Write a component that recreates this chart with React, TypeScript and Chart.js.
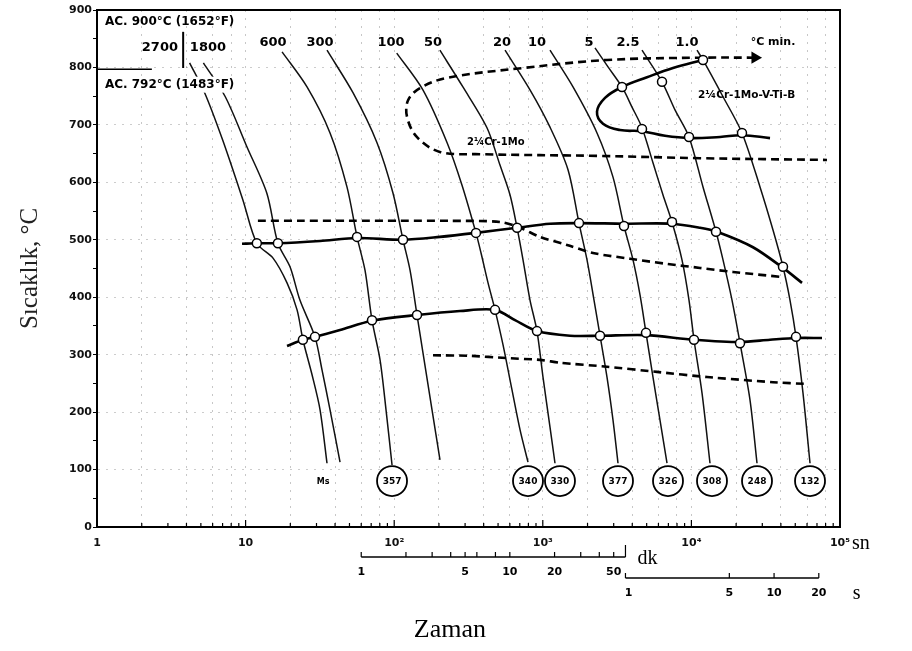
import React, { useEffect, useRef } from 'react';
import { Chart, registerables } from 'chart.js';
Chart.register(...registerables);

type P = [number, number];

// ---- DATA: [time (s), temperature (°C)] ----
// cooling curves (°C/min)
const cool2700: P[] = [[4.2,808],[5.3,756],[7.0,674],[9.6,569],[11.9,494],[15.3,468],[19.0,425],[22.2,378],[24.3,326],[28.0,265],[31.7,204],[35.3,111]];
const cool1800: P[] = [[5.2,808],[7.3,749],[10.2,662],[13.9,581],[16.5,494],[19.9,453],[23.2,395],[29.3,331],[32.7,273],[37.0,204],[43.2,113]];
const cool600: P[] = [[17.6,827],[25.9,766],[37.0,686],[48.1,592],[56.2,505],[63.6,447],[70.9,360],[80.3,291],[88.1,204],[96.7,108]];
const cool300: P[] = [[35.3,830],[52.8,756],[76.6,669],[98.2,581],[114.6,500],[127.8,447],[142.4,369],[156.2,303],[179.7,204],[203.3,117]];
const cool100: P[] = [[104,825],[156,761],[227,669],[286,595],[355,512],[384,477],[428,425],[477,378],[540,317],[620,239],[703,169],[795,113]];
const cool50: P[] = [[203,830],[290,766],[421,695],[515,630],[602,578],[671,521],[736,465],[820,395],[914,341],[1003,261],[1118,174],[1208,111]];
const cool20: P[] = [[557,830],[820,761],[1118,696],[1478,622],[1752,529],[1984,465],[2211,395],[2427,333],[2704,261],[2968,186],[3207,111]];
const cool10: P[] = [[1118,830],[1597,766],[2316,686],[2968,609],[3519,524],[4046,465],[4510,404],[4948,338],[5514,261],[6147,186],[6852,111]];
const cool5: P[] = [[2245,834],[2747,801],[3412,766],[3984,731],[4652,695],[5514,634],[6441,578],[7403,531],[8644,465],[9634,395],[10410,326],[11790,233],[13340,111]];
const cool2_5: P[] = [[4652,830],[6342,775],[7756,726],[9634,679],[11970,592],[14640,514],[16320,465],[18760,395],[21240,320],[24800,221],[27640,111]];
const cool1_0: P[] = [[10910,830],[11970,813],[16320,749],[21900,686],[28950,592],[35410,517],[41340,453],[46070,395],[50570,331],[56370,233],[62840,111]];

// transformation lines
const bainiteStart: P[] = [[9.46,493],[11.9,494],[16.5,494],[31.7,498],[56.2,503],[114.6,500],[203,505],[355,512],[671,521],[1118,528],[1752,529],[3519,528],[7403,528],[11430,521],[14870,514],[25970,487],[41340,451],[55510,425]];
const bainiteFinish: P[] = [[19.0,315],[24.3,326],[29.3,331],[43.2,343],[70.9,359],[142.4,369],[277,376],[477,378],[650,360],[914,341],[1524,333],[2427,333],[4948,334],[10410,326],[21240,322],[33810,326],[50570,329],[75670,329]];
const dashedUpper: P[] = [[12.1,533],[23.2,533],[50.4,533],[109.4,533],[237.5,533],[515,531],[702,521],[958,505],[1456,491],[2177,477],[3863,467],[6852,458],[11430,451],[19050,444],[41340,435]];
const dashedLower: P[] = [[182.5,299],[323.6,298],[574,294],[958,291],[1305,286],[2704,279],[5868,270],[12740,261],[35410,252],[59980,249]];
const ferriteNose: P[] = [[26790,817],[11430,817],[2704,813],[736,799],[227,782],[149,764],[124,743],[122,714],[142,679],[203,653],[378,649],[2427,646],[11430,642],[81730,639]];
const vtibCurve: P[] = [[11970,813],[7517,799],[5025,783],[3412,766],[2622,747],[2316,723],[2542,702],[3308,691],[4652,689],[6643,681],[9786,677],[15580,679],[21900,682],[33810,677]];

// intersection markers
const startMarks: P[] = [[11.9,494],[16.5,494],[56.2,505],[114.6,500],[355,512],[671,521],[1752,529],[3519,524],[7403,531],[14640,514],[41340,453]];
const finishMarks: P[] = [[24.3,326],[29.3,331],[70.9,360],[142.4,369],[477,378],[914,341],[2427,333],[4948,338],[10410,326],[21240,320],[50570,331]];
const vtibMarks: P[] = [[11970,813],[6342,775],[3412,766],[4652,693],[9634,679],[21900,686]];

// texts
const rateLabels = ['2700','1800','600','300','100','50','20','10','5','2.5','1.0'];
const hardnessLabels = ['357','340','330','377','326','308','248','132'];
const xDecades = [1, 10, 100, 1000, 10000, 100000];
const xTickLabels = ['1', '10', '10²', '10³', '10⁴', '10⁵'];
const minuteTicks = [1, 2, 3, 4, 5, 6, 8, 10, 20, 30, 40, 50, 60];
const minuteLabels = [1, 5, 10, 20, 50];
const hourTicks = [1, 5, 10, 20];
const hourLabels = [1, 5, 10, 20];

// ---- LAYOUT of annotations (data coordinates) ----
const rateLabelAt: P[] = [[2.65,834],[5.58,834],[15.3,844],[31.7,844],[95.2,844],[182.5,844],[531,844],[914,844],[2046,844],[3742,844],[9340,844]];
const hardnessAt = [96.7, 795, 1305, 3207, 6959, 13760, 27640, 62840];
const hardnessT = 80;

const toXY = (arr: P[]) => arr.map(([x, y]) => ({ x, y }));

const SANS = '"DejaVu Sans", sans-serif';
const SERIF = '"Liberation Serif", "DejaVu Serif", serif';

const annotPlugin = {
  id: 'cctAnnot',
  afterDatasetsDraw(chart: any) {
    const { ctx, chartArea: a, scales } = chart;
    const xs = scales.x, ys = scales.y;
    const X = (t: number) => xs.getPixelForValue(t);
    const Y = (v: number) => ys.getPixelForValue(v);
    ctx.save();
    ctx.strokeStyle = '#000';
    ctx.fillStyle = '#000';
    // frame top and right
    ctx.lineWidth = 2;
    ctx.beginPath();
    ctx.moveTo(a.left, a.top);
    ctx.lineTo(a.right, a.top);
    ctx.lineTo(a.right, a.bottom);
    ctx.stroke();
    // inward x ticks
    ctx.lineWidth = 1.2;
    for (const d of xDecades) {
      for (let m = 1; m <= 9; m++) {
        const v = d * m;
        if (v > 100000) break;
        const px = X(v);
        const len = m === 1 ? 7 : 4;
        ctx.beginPath();
        ctx.moveTo(px, a.bottom);
        ctx.lineTo(px, a.bottom - len);
        ctx.stroke();
      }
    }
    // AC separator lines
    ctx.lineWidth = 1.5;
    ctx.beginPath();
    ctx.moveTo(a.left, Y(797));
    ctx.lineTo(X(2.34), Y(797));
    ctx.stroke();
    ctx.lineWidth = 2;
    ctx.beginPath();
    ctx.moveTo(X(3.8), Y(862));
    ctx.lineTo(X(3.8), Y(799));
    ctx.stroke();

    ctx.textBaseline = 'middle';
    // AC texts
    ctx.font = `bold 12px ${SANS}`;
    ctx.textAlign = 'left';
    ctx.fillText('AC. 900°C (1652°F)', X(1.13), Y(879));
    const ac2 = 'AC. 792°C (1483°F)';
    const w2 = ctx.measureText(ac2).width;
    ctx.fillStyle = '#fff';
    ctx.fillRect(X(1.13) - 2, Y(770) - 8, w2 + 4, 16);
    ctx.fillStyle = '#000';
    ctx.fillText(ac2, X(1.13), Y(770));

    // rate labels
    ctx.font = `bold 13px ${SANS}`;
    ctx.textAlign = 'center';
    rateLabels.forEach((s, i) => {
      ctx.fillText(s, X(rateLabelAt[i][0]), Y(rateLabelAt[i][1]));
    });
    ctx.font = `bold 11px ${SANS}`;
    ctx.fillText('°C min.', X(35410), Y(844));

    // steel grade labels
    ctx.textAlign = 'left';
    ctx.font = `bold 10px ${SANS}`;
    ctx.fillText('2¼Cr-1Mo', X(309), Y(669));
    ctx.font = `bold 10.5px ${SANS}`;
    ctx.fillText('2¼Cr-1Mo-V-Ti-B', X(11080), Y(752));

    // Ms
    ctx.textAlign = 'center';
    ctx.font = `bold 8px ${SANS}`;
    ctx.fillText('Ms', X(33.2), Y(78));

    // hardness circles
    ctx.lineWidth = 1.8;
    ctx.font = `bold 9px ${SANS}`;
    hardnessLabels.forEach((s, i) => {
      const cx = X(hardnessAt[i]), cy = Y(hardnessT);
      ctx.beginPath();
      ctx.arc(cx, cy, 15, 0, Math.PI * 2);
      ctx.fillStyle = '#fff';
      ctx.fill();
      ctx.stroke();
      ctx.fillStyle = '#000';
      ctx.fillText(s, cx, cy + 0.5);
    });

    // secondary time scales
    const yMin = a.bottom + 30;
    const yHr = a.bottom + 51;
    ctx.lineWidth = 1.5;
    ctx.beginPath();
    ctx.moveTo(X(60), yMin);
    ctx.lineTo(X(3600), yMin);
    ctx.stroke();
    ctx.lineWidth = 1.2;
    for (const m of minuteTicks) {
      const px = X(m * 60);
      ctx.beginPath();
      ctx.moveTo(px, yMin);
      ctx.lineTo(px, yMin - (m === 60 ? 12 : 5));
      ctx.stroke();
    }
    ctx.font = `bold 11px ${SANS}`;
    ctx.textAlign = 'center';
    for (const m of minuteLabels) ctx.fillText(String(m), X(m * 60), yMin + 15);

    ctx.lineWidth = 1.5;
    ctx.beginPath();
    ctx.moveTo(X(3600), yHr);
    ctx.lineTo(X(72000), yHr);
    ctx.stroke();
    ctx.lineWidth = 1.2;
    for (const h of hourTicks) {
      const px = X(h * 3600);
      ctx.beginPath();
      ctx.moveTo(px, yHr);
      ctx.lineTo(px, yHr - 5);
      ctx.stroke();
    }
    for (const h of hourLabels) ctx.fillText(String(h), X(h * 3600) + (h === 1 ? 3 : 0), yHr + 15);

    // unit texts
    ctx.textAlign = 'left';
    ctx.font = `20px ${SERIF}`;
    ctx.fillText('sn', X(100000) + 12, a.bottom + 17);
    ctx.fillText('dk', X(3600) + 12, yMin + 2);
    ctx.fillText('s', X(72000) + 34, yHr + 16);
    // x title
    ctx.textAlign = 'center';
    ctx.font = `26px ${SERIF}`;
    ctx.fillText('Zaman', X(237), a.bottom + 103);
    ctx.restore();
  },
};

const coolStyle = { borderColor: '#111', borderWidth: 1.5, pointRadius: 0, showLine: true, tension: 0.3, fill: false };
const thickStyle = { borderColor: '#000', borderWidth: 2.6, pointRadius: 0, showLine: true, tension: 0.3, fill: false };
const dashStyle = { ...thickStyle, borderDash: [8, 5], borderWidth: 2.6 };
const markStyle = { showLine: false, pointRadius: 4.5, pointBackgroundColor: '#fff', pointBorderColor: '#000', pointBorderWidth: 1.5 };

function mantissa(v: number) {
  const e = Math.floor(Math.log10(v) + 1e-9);
  return Math.round(v / Math.pow(10, e));
}

export default function App() {
  const ref = useRef<HTMLCanvasElement>(null);
  useEffect(() => {
    if (!ref.current) return;
    const chart = new Chart(ref.current, {
      type: 'scatter',
      data: {
        datasets: [
          // markers first: Chart.js draws the first dataset on top
          { label: 'startMarks', data: toXY(startMarks), ...markStyle },
          { label: 'finishMarks', data: toXY(finishMarks), ...markStyle },
          { label: 'vtibMarks', data: toXY(vtibMarks), ...markStyle },
          { label: 'bainiteStart', data: toXY(bainiteStart), ...thickStyle },
          { label: 'bainiteFinish', data: toXY(bainiteFinish), ...thickStyle },
          { label: 'vtib', data: toXY(vtibCurve), ...thickStyle, tension: 0.4 },
          { label: 'dashedUpper', data: toXY(dashedUpper), ...dashStyle },
          { label: 'dashedLower', data: toXY(dashedLower), ...dashStyle, tension: 0.2 },
          {
            label: 'ferriteNose', data: toXY(ferriteNose), ...dashStyle, tension: 0.35,
            pointRadius: (c: any) => (c.dataIndex === 0 ? 4.5 : 0),
            pointStyle: 'triangle', pointRotation: 90, pointBackgroundColor: '#000', pointBorderColor: '#000',
          },
          { label: '2700', data: toXY(cool2700), ...coolStyle },
          { label: '1800', data: toXY(cool1800), ...coolStyle },
          { label: '600', data: toXY(cool600), ...coolStyle },
          { label: '300', data: toXY(cool300), ...coolStyle },
          { label: '100', data: toXY(cool100), ...coolStyle },
          { label: '50', data: toXY(cool50), ...coolStyle },
          { label: '20', data: toXY(cool20), ...coolStyle },
          { label: '10', data: toXY(cool10), ...coolStyle },
          { label: '5', data: toXY(cool5), ...coolStyle },
          { label: '2.5', data: toXY(cool2_5), ...coolStyle },
          { label: '1.0', data: toXY(cool1_0), ...coolStyle },
        ] as any,
      },
      options: {
        animation: false,
        responsive: false,
        devicePixelRatio: 1,
        layout: { padding: { left: 0, right: 72, top: 10, bottom: 0 } },
        plugins: { legend: { display: false }, tooltip: { enabled: false } },
        scales: {
          x: {
            type: 'logarithmic',
            min: 1,
            max: 100000,
            position: 'bottom',
            afterBuildTicks: (scale: any) => {
              const t: any[] = [];
              for (const d of xDecades) {
                for (let m = 1; m <= 9; m++) {
                  if (d * m <= 100000) t.push({ value: d * m, major: m === 1 });
                }
              }
              scale.ticks = t;
            },
            afterFit: (scale: any) => { scale.height = 124; },
            ticks: {
              autoSkip: false,
              maxRotation: 0,
              padding: 10,
              color: '#111',
              font: { family: SANS, size: 11, weight: 'bold' },
              callback: (v: any) => {
                const i = xDecades.indexOf(Number(v));
                return i >= 0 ? xTickLabels[i] : '';
              },
            },
            grid: {
              drawTicks: false,
              lineWidth: 1,
              color: (c: any) => {
                const v = c.tick ? c.tick.value : 0;
                if (!v || v === 1 || v === 100000) return 'rgba(0,0,0,0)';
                const m = mantissa(v);
                return [1, 2, 4, 6, 8].includes(m) ? 'rgba(0,0,0,0.22)' : 'rgba(0,0,0,0)';
              },
            },
            border: { display: true, color: '#000', width: 2, dash: [2, 6] },
          },
          y: {
            type: 'linear',
            min: 0,
            max: 900,
            afterFit: (scale: any) => { scale.width = 97; },
            ticks: {
              stepSize: 50,
              padding: 1,
              color: '#111',
              font: { family: SANS, size: 11, weight: 'bold' },
              callback: (v: any) => (Number(v) % 100 === 0 ? String(v) : ''),
            },
            grid: {
              drawTicks: true,
              tickLength: 4,
              tickColor: '#000',
              lineWidth: 1,
              color: (c: any) => {
                const v = c.tick ? c.tick.value : 0;
                return v > 0 && v < 900 && v % 100 === 0 ? 'rgba(0,0,0,0.2)' : 'rgba(0,0,0,0)';
              },
            },
            border: { display: true, color: '#000', width: 2, dash: [2, 6] },
            title: {
              display: true,
              text: 'Sıcaklık, °C',
              color: '#222',
              font: { family: SERIF, size: 25 },
              padding: { top: 15, bottom: 0 },
            },
          },
        },
      } as any,
      plugins: [annotPlugin],
    });
    return () => chart.destroy();
  }, []);
  return (
    <div style={{ position: 'absolute', left: 0, top: 0, width: 912, height: 651, background: '#fff' }}>
      <canvas ref={ref} width={912} height={651} style={{ display: 'block', width: 912, height: 651 }} />
    </div>
  );
}
